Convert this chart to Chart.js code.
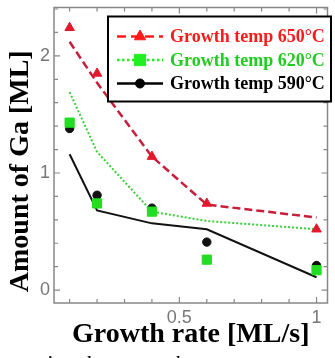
<!DOCTYPE html>
<html>
<head>
<meta charset="utf-8">
<script src="https://cdn.jsdelivr.net/npm/chart.js@4.4.1/dist/chart.umd.min.js"></script>
<style>
  html, body { margin: 0; padding: 0; background: #fff; overflow: hidden; }
  #wrap { position: relative; width: 335px; height: 358px; overflow: hidden; }
  #caption { position: absolute; left: 46px; top: 352px; font: italic 22px/22px "Liberation Serif", serif; color: #000; white-space: nowrap; }
</style>
</head>
<body>
<div id="wrap">
  <canvas id="gaChart" width="335" height="358"></canvas>
  <div id="caption">in a late growth</div>
</div>
<script>
// growth rate [ML/s] and amount of Ga [ML]
const growthRate = [0.1, 0.2, 0.4, 0.6, 1.0];
const ga650 = [2.24, 1.85, 1.14, 0.74, 0.52];
const ga620 = [1.43, 0.74, 0.67, 0.26, 0.17];
const ga590 = [1.38, 0.81, 0.70, 0.41, 0.21];
// fitted curves
const fit650 = [2.12, 1.77, 1.14, 0.73, 0.62];
const fit620 = [1.69, 1.18, 0.67, 0.59, 0.52];
const fit590 = [1.16, 0.68, 0.57, 0.52, 0.11];
const seriesLabels = ["Growth temp 650°C", "Growth temp 620°C", "Growth temp 590°C"];
const xTickLabels = [0.5, 1];
const yTickLabels = [0, 1, 2];

const RED = "#e3192d", RED_LINE = "#c81e3c", GREEN = "#22dd22", GREEN_LINE = "#3ccc3c", BLACK = "#111";
const TICK_FONT = { family: "Liberation Sans", size: 18 };

function pts(ys) {
  return growthRate.map((x, i) => ({ x, y: ys[i] }));
}

function pickLabel(list, v) {
  const hit = list.find(t => Math.abs(t - v) < 1e-6);
  return hit === undefined ? "" : String(hit);
}

// box round the plot, with inward ticks on all four sides
const frameTicks = {
  id: "frameTicks",
  beforeDatasetsDraw(chart) {
    const { ctx, chartArea: ca, scales } = chart;
    ctx.save();
    ctx.strokeStyle = "#888";
    ctx.lineWidth = 1.5;
    ctx.strokeRect(ca.left, ca.top, ca.right - ca.left, ca.bottom - ca.top);
    ctx.lineWidth = 1.2;
    ctx.beginPath();
    scales.x.ticks.forEach(t => {
      const px = scales.x.getPixelForValue(t.value);
      const len = t.label ? 6 : 4;
      ctx.moveTo(px, ca.bottom); ctx.lineTo(px, ca.bottom - len);
      ctx.moveTo(px, ca.top); ctx.lineTo(px, ca.top + len);
    });
    scales.y.ticks.forEach(t => {
      const py = scales.y.getPixelForValue(t.value);
      const len = t.label ? 6 : 4;
      ctx.moveTo(ca.left, py); ctx.lineTo(ca.left + len, py);
      ctx.moveTo(ca.right, py); ctx.lineTo(ca.right - len, py);
    });
    ctx.stroke();
    ctx.restore();
  }
};

// axis titles and the boxed legend (line sample + marker)
const titlesLegend = {
  id: "titlesLegend",
  afterDraw(chart) {
    const { ctx, chartArea: ca } = chart;
    ctx.save();
    ctx.fillStyle = "#000";
    ctx.font = 'bold 28px "Liberation Serif"';
    ctx.textAlign = "center";
    ctx.textBaseline = "alphabetic";
    ctx.fillText("Growth rate [ML/s]", (ca.left + ca.right) / 2, ca.bottom + 39);
    ctx.translate(ca.left - 26, (ca.top + ca.bottom) / 2 + 16);
    ctx.rotate(-Math.PI / 2);
    ctx.fillText("Amount of Ga [ML]", 0, 0);
    ctx.restore();

    const bx = ca.left + 54, by = ca.top + 9, bw = 223, bh = 85;
    ctx.save();
    ctx.fillStyle = "#fff";
    ctx.fillRect(bx, by, bw, bh);
    ctx.strokeStyle = "#000";
    ctx.lineWidth = 2;
    ctx.strokeRect(bx, by, bw, bh);

    const rows = [
      { text: seriesLabels[0], color: "#ff1a1a", line: "#ff1a1a", dash: [9, 5], style: "triangle", r: 6.5 },
      { text: seriesLabels[1], color: "#1fcc1f", line: "#22ee22", dash: [2.5, 2.5], style: "rect", r: 8 },
      { text: seriesLabels[2], color: "#000", line: "#000", dash: [], style: "circle", r: 4.5 }
    ];
    rows.forEach((row, i) => {
      const y = by + 20 + i * 23.5;
      ctx.setLineDash(row.dash);
      ctx.strokeStyle = row.line;
      ctx.lineWidth = 2.5;
      ctx.beginPath();
      ctx.moveTo(bx + 9, y); ctx.lineTo(bx + 55, y);
      ctx.stroke();
      ctx.setLineDash([]);
      ctx.fillStyle = row.line;
      ctx.lineWidth = 1;
      Chart.helpers.drawPoint(ctx, { pointStyle: row.style, radius: row.r, rotation: 0, borderWidth: 1 }, bx + 32, y);
      ctx.fillStyle = row.color;
      ctx.font = 'bold 18px "Liberation Serif"';
      ctx.textAlign = "left";
      ctx.textBaseline = "middle";
      ctx.fillText(row.text, bx + 62, y + 1);
    });
    ctx.restore();
  }
};

const markerSet = (label, ys, style, radius, color) => ({
  label, data: pts(ys), showLine: false, pointStyle: style, pointRadius: radius,
  backgroundColor: color, borderColor: color, borderWidth: 1, order: 0
});
const lineSet = (label, ys, color, width, dash) => ({
  label, data: pts(ys), showLine: true, pointRadius: 0, borderColor: color,
  borderWidth: width, borderDash: dash, fill: false, tension: 0, order: 1
});

new Chart(document.getElementById("gaChart"), {
  type: "scatter",
  data: {
    datasets: [
      markerSet(seriesLabels[0], ga650, "triangle", 5.5, RED),
      markerSet(seriesLabels[1], ga620, "rect", 6.5, GREEN),
      markerSet(seriesLabels[2], ga590, "circle", 4.2, BLACK),
      lineSet("fit 650", fit650, RED_LINE, 2.5, [8, 4]),
      lineSet("fit 620", fit620, GREEN_LINE, 2, [2, 2]),
      lineSet("fit 590", fit590, BLACK, 2, [])
    ]
  },
  options: {
    responsive: false,
    animation: false,
    devicePixelRatio: 1,
    layout: { padding: { top: 4, right: 2, left: 0, bottom: 0 } },
    plugins: { legend: { display: false }, tooltip: { enabled: false } },
    scales: {
      x: {
        type: "linear", min: 0.043, max: 1.04,
        afterFit: s => { s.height = 55; s.paddingLeft = 0; s.paddingRight = 0; },
        grid: { display: false, drawTicks: false },
        border: { display: false },
        ticks: {
          stepSize: 0.1, includeBounds: false, autoSkip: false, maxRotation: 0,
          padding: 4, color: "#777", font: TICK_FONT,
          callback: v => pickLabel(xTickLabels, v)
        }
      },
      y: {
        type: "linear", min: -0.11, max: 2.413,
        afterFit: s => { s.width = 54; s.paddingTop = 0; s.paddingBottom = 0; },
        grid: { display: false, drawTicks: false },
        border: { display: false },
        ticks: {
          stepSize: 0.2, includeBounds: false, autoSkip: false,
          padding: 4, color: "#777", font: TICK_FONT,
          callback: v => pickLabel(yTickLabels, v)
        }
      }
    }
  },
  plugins: [frameTicks, titlesLegend]
});
</script>
</body>
</html>
